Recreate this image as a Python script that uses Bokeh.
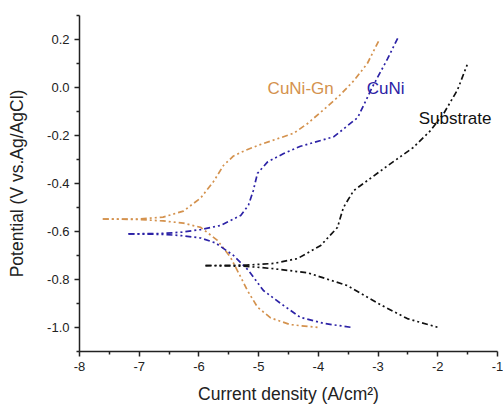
from bokeh.plotting import figure
from bokeh.models import FixedTicker, PrintfTickFormatter, Label
from bokeh.embed import file_html
from bokeh.resources import INLINE

# ---- data (log current density, potential) ----
gn_anodic_x = [-7.61, -7.0, -6.6, -6.26, -5.97, -5.75, -5.59, -5.42, -5.25, -5.02, -4.7, -4.41, -4.18, -3.9, -3.63, -3.4, -3.18, -2.97]
gn_anodic_y = [-0.548, -0.548, -0.54, -0.515, -0.46, -0.39, -0.325, -0.285, -0.265, -0.242, -0.215, -0.19, -0.15, -0.09, -0.03, 0.03, 0.1, 0.204]
gn_cathodic_x = [-7.61, -7.0, -6.6, -6.26, -5.97, -5.69, -5.47, -5.30, -5.19, -5.02, -4.80, -4.47, -4.0]
gn_cathodic_y = [-0.548, -0.55, -0.556, -0.565, -0.583, -0.637, -0.708, -0.79, -0.845, -0.915, -0.96, -0.988, -1.0]

cuni_anodic_x = [-7.18, -6.6, -6.3, -5.97, -5.64, -5.30, -5.17, -5.09, -5.02, -4.85, -4.58, -4.30, -3.74, -3.34, -3.10, -2.84, -2.67]
cuni_anodic_y = [-0.61, -0.608, -0.603, -0.592, -0.575, -0.533, -0.49, -0.43, -0.358, -0.31, -0.275, -0.245, -0.205, -0.125, 0.0, 0.12, 0.206]
cuni_cathodic_x = [-7.18, -6.6, -6.3, -5.97, -5.72, -5.42, -5.17, -4.92, -4.63, -4.30, -3.91, -3.43]
cuni_cathodic_y = [-0.61, -0.612, -0.617, -0.627, -0.648, -0.70, -0.762, -0.846, -0.90, -0.958, -0.983, -1.0]

sub_anodic_x = [-5.89, -5.2, -4.75, -4.35, -3.96, -3.68, -3.58, -3.41, -3.18, -2.79, -2.41, -2.12, -1.90, -1.67, -1.50]
sub_anodic_y = [-0.742, -0.74, -0.733, -0.713, -0.658, -0.583, -0.50, -0.43, -0.388, -0.317, -0.25, -0.179, -0.108, -0.01, 0.10]
sub_cathodic_x = [-5.89, -5.2, -4.75, -4.18, -3.52, -2.96, -2.51, -1.99]
sub_cathodic_y = [-0.742, -0.745, -0.755, -0.772, -0.825, -0.905, -0.963, -1.0]

series_names = ["CuNi-Gn", "CuNi", "Substrate"]
x_major_ticks = [-8, -7, -6, -5, -4, -3, -2, -1]
y_major_ticks = [-1.0, -0.8, -0.6, -0.4, -0.2, 0.0, 0.2]

ORANGE = "#D4924E"
BLUE = "#2C22A6"
BLACK = "#111111"
FONT = "Liberation Sans"
DASH = "6 3 2 3 2 3"

p = figure(width=503, height=407, x_range=(-8, -1), y_range=(-1.1, 0.3),
           output_backend="svg", toolbar_location=None,
           min_border_left=79, min_border_right=6, min_border_top=15, min_border_bottom=56)
p.outline_line_color = None
p.grid.visible = False
p.background_fill_color = "white"
p.border_fill_color = "white"

for xs, ys, c in [(gn_anodic_x, gn_anodic_y, ORANGE), (gn_cathodic_x, gn_cathodic_y, ORANGE),
                  (cuni_anodic_x, cuni_anodic_y, BLUE), (cuni_cathodic_x, cuni_cathodic_y, BLUE),
                  (sub_anodic_x, sub_anodic_y, BLACK), (sub_cathodic_x, sub_cathodic_y, BLACK)]:
    p.line(xs, ys, line_color=c, line_width=1.7, line_dash=DASH)

# axes
x_minor = [t + 0.5 for t in x_major_ticks[:-1]]
y_minor = [round(t - 0.1, 1) for t in y_major_ticks] + [0.3]
p.xaxis.ticker = FixedTicker(ticks=x_major_ticks, minor_ticks=x_minor)
p.yaxis.ticker = FixedTicker(ticks=y_major_ticks, minor_ticks=y_minor)
p.xaxis.formatter = PrintfTickFormatter(format="%d")
p.yaxis.formatter = PrintfTickFormatter(format="%.1f")
p.xaxis.axis_label = "Current density (A/cm\u00b2)"
p.yaxis.axis_label = "Potential (V vs.Ag/AgCl)"
for ax in (p.xaxis, p.yaxis):
    ax.axis_line_color = "#222222"
    ax.axis_line_width = 1.5
    ax.major_tick_line_color = "#222222"
    ax.minor_tick_line_color = "#222222"
    ax.major_tick_line_width = 1.5
    ax.minor_tick_line_width = 1.5
    ax.major_tick_in = 0
    ax.major_tick_out = 5
    ax.minor_tick_in = 0
    ax.minor_tick_out = 3
    ax.major_label_text_font = FONT
    ax.major_label_text_font_size = "13px"
    ax.major_label_text_color = "#222222"
    ax.axis_label_text_font = FONT
    ax.axis_label_text_font_size = "17.5px"
    ax.axis_label_text_font_style = "normal"
    ax.axis_label_text_color = "#222222"
    ax.major_label_standoff = 5
p.yaxis.axis_label_standoff = 17
p.xaxis.axis_label_standoff = 10

label_colors = [ORANGE, BLUE, BLACK]
label_pos = [(-4.85, -0.006), (-3.19, -0.006), (-2.32, -0.129)]
for name, c, (lx, ly) in zip(series_names, label_colors, label_pos):
    p.add_layout(Label(x=lx, y=ly, text=name, text_color=c, text_font=FONT,
                       text_font_size="17px", text_baseline="middle", text_align="left"))

open("out.html", "w").write(file_html(p, INLINE))
